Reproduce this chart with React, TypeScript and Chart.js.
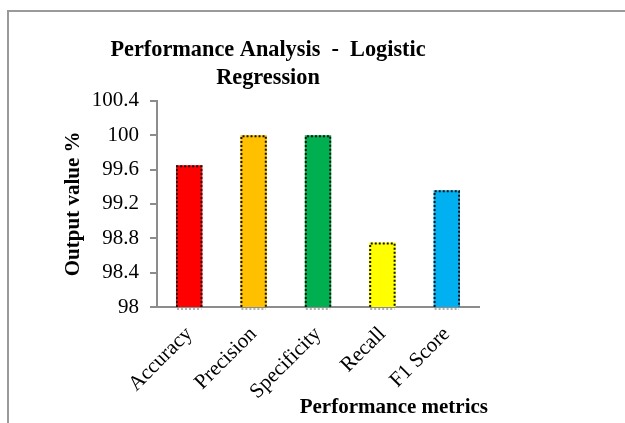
import React, { useEffect, useRef } from "react";
import { Chart, registerables } from "chart.js";

Chart.register(...registerables);

const categories = ["Accuracy", "Precision", "Specificity", "Recall", "F1 Score"];
const values = [99.65, 100, 100, 98.75, 99.36];
const barColors = ["#FF0000", "#FFC000", "#00B050", "#FFFF00", "#00B0F0"];
const titleLines = ["Performance Analysis  -  Logistic", "Regression"];
const yTitle = "Output value %";
const xTitle = "Performance metrics";
const yMin = 98;
const yMax = 100.4;
const yStep = 0.4;

const FONT = "'Liberation Serif', 'Times New Roman', serif";

const dottedBorder = {
  id: "dottedBorder",
  afterDatasetsDraw(chart: any) {
    const ctx = chart.ctx;
    const meta = chart.getDatasetMeta(0);
    const bottom = chart.scales.y.getPixelForValue(yMin);
    ctx.save();
    meta.data.forEach((bar: any) => {
      const { x, y, width } = bar.getProps(["x", "y", "width"], true);
      const l = x - width / 2 + 1;
      const r = x + width / 2 - 1;
      ctx.lineWidth = 2;
      ctx.setLineDash([2, 2]);
      ctx.strokeStyle = "#b0b0b0";
      ctx.beginPath();
      ctx.moveTo(l, bottom + 2);
      ctx.lineTo(r, bottom + 2);
      ctx.stroke();
      ctx.strokeStyle = "#111";
      ctx.beginPath();
      ctx.moveTo(l, bottom);
      ctx.lineTo(l, y + 1);
      ctx.lineTo(r, y + 1);
      ctx.lineTo(r, bottom);
      ctx.stroke();
    });
    ctx.restore();
  },
};

const xTitlePlugin = {
  id: "xTitlePlugin",
  afterDraw(chart: any) {
    const ctx = chart.ctx;
    const xs = chart.scales.x;
    ctx.save();
    ctx.font = `bold 21px ${FONT}`;
    ctx.fillStyle = "#000";
    ctx.textAlign = "right";
    ctx.textBaseline = "middle";
    ctx.fillText(xTitle, xs.right + 9, xs.bottom - 13);
    ctx.restore();
  },
};

export default function App() {
  const ref = useRef<HTMLCanvasElement>(null);
  useEffect(() => {
    if (!ref.current) return;
    const chart = new Chart(ref.current, {
      type: "bar",
      data: {
        labels: categories,
        datasets: [
          {
            data: values,
            backgroundColor: barColors,
            borderWidth: 0,
            categoryPercentage: 1,
            barPercentage: 0.41,
          },
        ],
      },
      plugins: [dottedBorder, xTitlePlugin],
      options: {
        responsive: false,
        animation: false,
        layout: { padding: { left: 57, right: 146, top: 36, bottom: 2 } },
        plugins: {
          legend: { display: false },
          tooltip: { enabled: false },
          title: {
            display: true,
            text: titleLines,
            color: "#000",
            font: { family: FONT, size: 22.3, weight: "bold", lineHeight: 1.25 },
            padding: { top: 0, bottom: 9 },
          },
        },
        scales: {
          x: {
            z: 1,
            grid: { display: false },
            border: { display: true, color: "#8c8c8c", width: 2 },
            ticks: {
              color: "#000",
              font: { family: FONT, size: 21 },
              minRotation: 45,
              maxRotation: 45,
              padding: 7,
            },
            title: { display: false },
            afterFit: (s: any) => {
              s.height = 114;
            },
          },
          y: {
            min: yMin,
            max: yMax,
            grid: {
              display: true,
              drawOnChartArea: false,
              drawTicks: true,
              tickLength: 7,
              color: "#8c8c8c",
              lineWidth: 2,
            },
            border: { display: true, color: "#8c8c8c", width: 2 },
            ticks: {
              stepSize: yStep,
              color: "#000",
              font: { family: FONT, size: 21 },
              padding: 11,
              callback: (v: any) => String(parseFloat(Number(v).toFixed(1))),
            },
            title: {
              display: true,
              text: yTitle,
              color: "#000",
              font: { family: FONT, size: 21, weight: "bold" },
              padding: { top: 4, bottom: 0 },
            },
            afterFit: (s: any) => {
              s.width = 100;
            },
          },
        },
      },
    });
    return () => chart.destroy();
  }, []);

  return (
    <div
      style={{
        position: "absolute",
        left: 0,
        top: 0,
        width: 625,
        height: 423,
        overflow: "hidden",
        background: "#fff",
      }}
    >
      <div
        style={{
          position: "absolute",
          left: 7,
          top: 10,
          width: 700,
          height: 500,
          borderLeft: "2px solid #9a9a9a",
          borderTop: "2px solid #9a9a9a",
        }}
      />
      <canvas
        ref={ref}
        width={625}
        height={423}
        style={{ position: "absolute", left: 0, top: 0 }}
      />
    </div>
  );
}
